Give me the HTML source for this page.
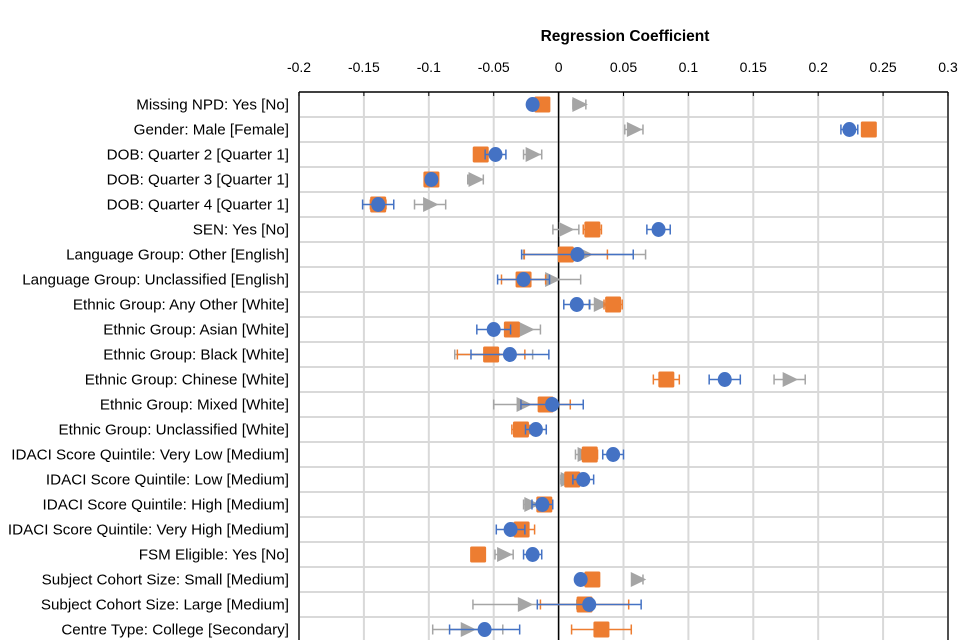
<!DOCTYPE html>
<html><head><meta charset="utf-8"><style>
body{margin:0;background:#fff;width:960px;height:640px;overflow:hidden}
svg{display:block;font-family:"Liberation Sans",sans-serif}
</style></head><body>
<svg id="chart" width="960" height="640"></svg>
<script>
const categories=["Missing NPD: Yes [No]","Gender: Male [Female]","DOB: Quarter 2 [Quarter 1]","DOB: Quarter 3 [Quarter 1]","DOB: Quarter 4 [Quarter 1]","SEN: Yes [No]","Language Group: Other [English]","Language Group: Unclassified [English]","Ethnic Group: Any Other [White]","Ethnic Group: Asian [White]","Ethnic Group: Black [White]","Ethnic Group: Chinese [White]","Ethnic Group: Mixed [White]","Ethnic Group: Unclassified [White]","IDACI Score Quintile: Very Low [Medium]","IDACI Score Quintile: Low [Medium]","IDACI Score Quintile: High [Medium]","IDACI Score Quintile: Very High [Medium]","FSM Eligible: Yes [No]","Subject Cohort Size: Small [Medium]","Subject Cohort Size: Large [Medium]","Centre Type: College [Secondary]"];
const blueValues=[-0.020,0.224,-0.0486,-0.098,-0.139,0.077,0.0145,-0.027,0.014,-0.050,-0.0375,0.128,-0.005,-0.0175,0.042,0.019,-0.0125,-0.037,-0.020,0.017,0.0236,-0.057];
const blueErr=[0.003,0.0065,0.008,0.003,0.012,0.009,0.043,0.02,0.01,0.013,0.03,0.012,0.024,0.008,0.008,0.008,0.008,0.011,0.007,0.003,0.04,0.027];
const orangeValues=[-0.0125,0.239,-0.060,-0.098,-0.139,0.026,0.0056,-0.027,0.042,-0.036,-0.052,0.083,-0.010,-0.029,0.024,0.0105,-0.011,-0.0285,-0.062,0.026,0.020,0.033];
const orangeErr=[0.003,0.003,0.003,0.003,0.006,0.007,0.032,0.017,0.007,0.003,0.026,0.01,0.019,0.007,0.006,0.004,0.004,0.01,0.002,0.003,0.034,0.023];
const greyValues=[0.016,0.058,-0.020,-0.064,-0.099,0.0056,0.020,-0.005,0.0325,-0.025,-0.050,0.178,-0.027,-0.022,0.020,0.007,-0.021,-0.030,-0.042,0.061,-0.026,-0.070];
const greyErr=[0.005,0.007,0.007,0.006,0.012,0.01,0.047,0.022,0.009,0.011,0.03,0.012,0.023,0.005,0.007,0.006,0.006,0.006,0.007,0.004,0.04,0.027];
const tickValues=[-0.2,-0.15,-0.1,-0.05,0,0.05,0.1,0.15,0.2,0.25,0.3];
const tickLabels=["-0.2","-0.15","-0.1","-0.05","0","0.05","0.1","0.15","0.2","0.25","0.3"];

const svg=document.getElementById('chart');
const NS='http://www.w3.org/2000/svg';
const L=299,R=948,T=92,RH=25;
const x=v=>L+(v-(-0.2))/0.5*(R-L);
const y=i=>T+RH*i+12.5;
function mk(tag,attrs,parent){const e=document.createElementNS(NS,tag);for(const k in attrs)e.setAttribute(k,attrs[k]);(parent||svg).appendChild(e);return e;}

const grid=mk('g',{});


for(let i=1;i<=categories.length;i++){mk('line',{x1:L,x2:R,y1:T+RH*i,y2:T+RH*i,stroke:'#d9d9d9','stroke-width':2},grid);}
tickValues.forEach(v=>{mk('line',{x1:x(v),x2:x(v),y1:T,y2:640,stroke:'#d9d9d9','stroke-width':2},grid);});
mk('line',{x1:L,x2:R,y1:T,y2:T,stroke:'#000','stroke-width':1.5});
mk('line',{x1:L,x2:L,y1:T,y2:640,stroke:'#222','stroke-width':1.5});
mk('line',{x1:R,x2:R,y1:T,y2:640,stroke:'#222','stroke-width':1.5});
mk('line',{x1:x(0),x2:x(0),y1:T,y2:640,stroke:'#000','stroke-width':1.5});
tickValues.forEach((v,i)=>{
 mk('line',{x1:x(v),x2:x(v),y1:T,y2:T+4,stroke:'#000','stroke-width':1});
 const t=mk('text',{x:x(v),y:72,'text-anchor':'middle','font-size':14,fill:'#000'});
 t.textContent=tickLabels[i];
 
 
});
const title=mk('text',{x:625,y:41,'text-anchor':'middle','font-size':15.5,'font-weight':'bold',fill:'#000'});
title.textContent='Regression Coefficient';


categories.forEach((c,i)=>{
 const t=mk('text',{x:289,y:y(i)+5,'text-anchor':'end','font-size':15.2,fill:'#000'});
 t.textContent=c;
 
 
});
function errbar(g,v,e,i,col){
 const a=x(v-e),b=x(v+e),yy=y(i);
 mk('line',{x1:a,x2:b,y1:yy,y2:yy,stroke:col,'stroke-width':1.5},g);
 mk('line',{x1:a,x2:a,y1:yy-5,y2:yy+5,stroke:col,'stroke-width':1.5},g);
 mk('line',{x1:b,x2:b,y1:yy-5,y2:yy+5,stroke:col,'stroke-width':1.5},g);
}
greyValues.forEach((v,i)=>{
 const g=mk('g',{});
 
 
 errbar(g,v,greyErr[i],i,'#a5a5a5');
 const cx=x(v),cy=y(i);
 mk('polygon',{points:`${cx-7},${cy-7.5} ${cx+8.5},${cy} ${cx-7},${cy+7.5}`,fill:'#a5a5a5'},g);
});
orangeValues.forEach((v,i)=>{
 const g=mk('g',{});
 
 
 errbar(g,v,orangeErr[i],i,'#ed7d31');
 mk('rect',{x:x(v)-8,y:y(i)-8,width:16,height:16,rx:1.5,fill:'#ed7d31'},g);
});
blueValues.forEach((v,i)=>{
 const g=mk('g',{});
 
 
 errbar(g,v,blueErr[i],i,'#4472c4');
 mk('ellipse',{cx:x(v),cy:y(i),rx:7,ry:7.5,fill:'#4472c4'},g);
});
</script>
</body></html>
